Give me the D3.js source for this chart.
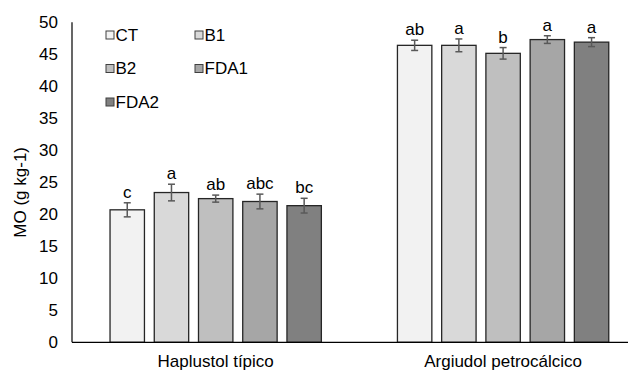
<!DOCTYPE html>
<html>
<head>
<meta charset="utf-8">
<script src="https://cdn.jsdelivr.net/npm/d3@7"></script>
<style>
  html, body { margin: 0; padding: 0; background: #fff; }
  svg { display: block; font-family: "Liberation Sans", Arial, sans-serif; }
</style>
</head>
<body>
<svg id="chart" width="637" height="372"></svg>
<script>
// Soil groups on the x axis
const categories = ["Haplustol típico", "Argiudol petrocálcico"];
// Treatments (series)
const series = ["CT", "B1", "B2", "FDA1", "FDA2"];
const colors = ["#f2f2f2", "#d9d9d9", "#bfbfbf", "#a6a6a6", "#808080"];
// Organic matter (g kg-1), one array per soil, in series order
const haplustolValues = [20.7, 23.4, 22.45, 22.0, 21.35];
const argiudolValues = [46.4, 46.4, 45.15, 47.3, 46.9];
// Error bar half-lengths
const haplustolErrors = [1.1, 1.3, 0.55, 1.15, 1.15];
const argiudolErrors = [0.8, 1.0, 0.9, 0.6, 0.7];
// Significance letters
const haplustolLetters = ["c", "a", "ab", "abc", "bc"];
const argiudolLetters = ["ab", "a", "b", "a", "a"];
// Y axis ticks
const yTicks = [0, 5, 10, 15, 20, 25, 30, 35, 40, 45, 50];
const yTitle = "MO (g kg-1)";

const values = [haplustolValues, argiudolValues];
const errors = [haplustolErrors, argiudolErrors];
const letters = [haplustolLetters, argiudolLetters];

const rows = [];
categories.forEach((c, ci) => {
  series.forEach((s, si) => {
    rows.push({ cat: c, ser: s, value: values[ci][si], err: errors[ci][si], letter: letters[ci][si], color: colors[si] });
  });
});

const svg = d3.select("#chart");
const plotLeft = 72, plotBottom = 342.3, plotTop = 22.3;
const band = 287.4;

const x0 = d3.scaleBand().domain(categories).range([plotLeft, plotLeft + band * 2]).padding(0);
const x1 = d3.scaleBand().domain(series).range([0, x0.bandwidth()]).paddingInner(0.222).paddingOuter(0.86);
const y = d3.scaleLinear().domain([0, 50]).range([plotBottom, plotTop]);

const fontSize = 17;

// Y axis: line and labels, no tick marks
svg.append("line")
  .attr("x1", plotLeft).attr("x2", plotLeft)
  .attr("y1", y(50)).attr("y2", plotBottom)
  .attr("stroke", "#000").attr("stroke-width", 1.2);

svg.append("g").selectAll("text").data(yTicks).join("text")
  .attr("x", plotLeft - 14)
  .attr("y", d => y(d))
  .attr("dy", "0.35em")
  .attr("text-anchor", "end")
  .attr("font-size", fontSize)
  .attr("fill", "#000")
  .text(d => d);

svg.append("text")
  .attr("transform", `translate(26,${(plotTop + plotBottom) / 2 + 10}) rotate(-90)`)
  .attr("text-anchor", "middle")
  .attr("font-size", fontSize)
  .attr("fill", "#000")
  .text(yTitle);

// Bars
const g = svg.append("g");
g.selectAll("rect.bar").data(rows).join("rect")
  .attr("class", "bar")
  .attr("x", d => x0(d.cat) + x1(d.ser))
  .attr("width", x1.bandwidth())
  .attr("y", d => y(d.value))
  .attr("height", d => plotBottom - y(d.value))
  .attr("fill", d => d.color)
  .attr("stroke", "#262626")
  .attr("stroke-width", 1.3);

// Error bars
const eb = g.selectAll("g.err").data(rows).join("g").attr("class", "err")
  .attr("stroke", "#595959").attr("stroke-width", 1.5);
const cx = d => x0(d.cat) + x1(d.ser) + x1.bandwidth() / 2;
eb.append("line")
  .attr("x1", cx).attr("x2", cx)
  .attr("y1", d => y(d.value + d.err)).attr("y2", d => y(d.value - d.err));
eb.append("line")
  .attr("x1", d => cx(d) - 3.5).attr("x2", d => cx(d) + 3.5)
  .attr("y1", d => y(d.value + d.err)).attr("y2", d => y(d.value + d.err));
eb.append("line")
  .attr("x1", d => cx(d) - 3.5).attr("x2", d => cx(d) + 3.5)
  .attr("y1", d => y(d.value - d.err)).attr("y2", d => y(d.value - d.err));

// Significance letters
g.selectAll("text.letter").data(rows).join("text")
  .attr("class", "letter")
  .attr("x", cx)
  .attr("y", d => y(d.value + d.err) - 5)
  .attr("text-anchor", "middle")
  .attr("font-size", fontSize)
  .attr("fill", "#000")
  .text(d => d.letter);

// X axis line and category labels
svg.append("line")
  .attr("x1", plotLeft).attr("x2", 628)
  .attr("y1", plotBottom).attr("y2", plotBottom)
  .attr("stroke", "#000").attr("stroke-width", 1.2);

svg.append("g").selectAll("text").data(categories).join("text")
  .attr("x", d => x0(d) + x0.bandwidth() / 2)
  .attr("y", 366.5)
  .attr("text-anchor", "middle")
  .attr("font-size", fontSize)
  .attr("fill", "#000")
  .text(d => d);

// Legend (two columns)
const legend = svg.append("g");
const legItems = legend.selectAll("g").data(series).join("g")
  .attr("transform", (d, i) => `translate(${i % 2 === 0 ? 106 : 195},${35 + Math.floor(i / 2) * 33.5})`);
legItems.append("rect")
  .attr("x", 0).attr("y", -4).attr("width", 8).attr("height", 8)
  .attr("fill", (d, i) => colors[i])
  .attr("stroke", "#404040").attr("stroke-width", 1);
legItems.append("text")
  .attr("x", 9.5).attr("y", 0).attr("dy", "0.35em")
  .attr("font-size", fontSize)
  .attr("fill", "#000")
  .text(d => d);
</script>
</body>
</html>
